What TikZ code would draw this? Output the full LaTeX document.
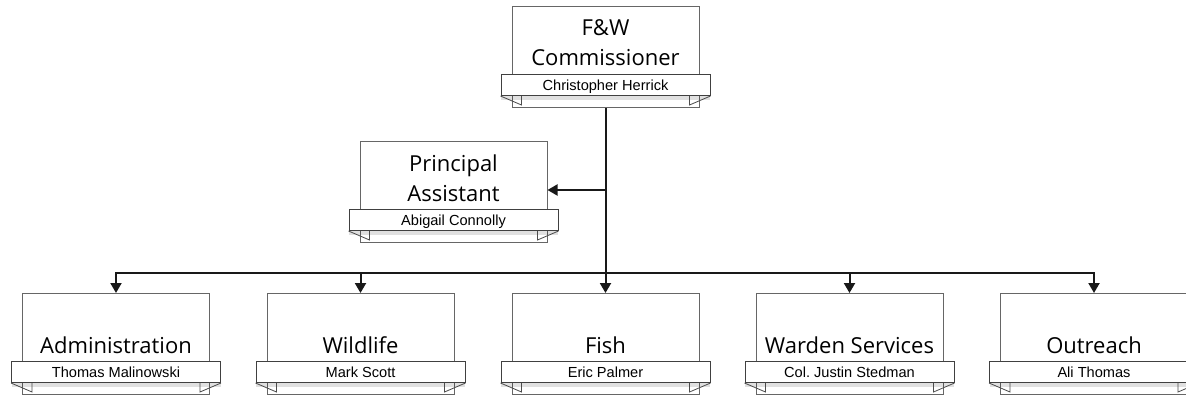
\documentclass[tikz,border=0pt]{standalone}
\usepackage{fontspec}
\newfontfamily\titlefont{Open Sans}
\newfontfamily\namefont{Liberation Sans}
\usetikzlibrary{arrows.meta,shadows}
\frenchspacing
\tikzset{
  unitbox/.style={draw=black!60, line width=1pt, fill=white, minimum width=187pt, minimum height=101pt, inner sep=0pt},
  titletext/.style={inner sep=0pt, font=\titlefont\fontsize{22}{30}\selectfont, text=black},
  banner/.style={draw=black!75, line width=1pt, fill=white, minimum width=209pt, minimum height=21pt, inner sep=0pt,
     text height=10.5pt, text depth=0pt, font=\namefont\fontsize{14.6}{16}\selectfont, text=black,
     drop shadow={shadow xshift=0pt, shadow yshift=-4pt, opacity=0.12, fill=black}},
  tabline/.style={draw=black!70, line width=0.8pt, line join=miter},
  conn/.style={draw=black!90, line width=2pt, line join=miter},
  arrowconn/.style={conn, -{Triangle[length=10pt,width=11pt]}}
}
\newcommand\orgunit[5]{%
  \node[unitbox, anchor=north] (#1) at (#2,#3) {};
  \node[titletext, anchor=base] (#1-t) at (#2,#3+60) {\begin{tabular}[b]{@{}c@{}}#4\end{tabular}};
  \node[banner, anchor=north] (#1-b) at (#2,#3+68) {#5};
  \draw[tabline] (#1-b.south west) -- ++(21,9) -- ++(0,-9);
  \draw[tabline] (#1-b.south east) -- ++(-21,9) -- ++(0,-9);
}
\begin{document}
\begin{tikzpicture}[x=1pt,y=-1pt]
\useasboundingbox (0,0) rectangle (1186,396);
\clip (0,0) rectangle (1186,396);
\orgunit{comm}{605.5}{6}{F\&W\\Commissioner}{Christopher Herrick}
\orgunit{pa}{453.5}{141}{Principal\\Assistant}{Abigail Connolly}
\orgunit{adm}{116}{293}{Administration}{Thomas Malinowski}
\orgunit{wild}{360.5}{293}{Wildlife}{Mark Scott}
\orgunit{fish}{605.5}{293}{Fish}{Eric Palmer}
\orgunit{ward}{849.5}{293}{Warden Services}{Col. Justin Stedman}
\orgunit{out}{1094}{293}{Outreach}{Ali Thomas}
\coordinate (bus) at (605.5,273);
\coordinate (jpa) at (605.5,190);
\draw[conn] (comm.south) -- (bus);
\draw[arrowconn] (jpa) -- (pa.east |- jpa);
\draw[arrowconn] (bus) -| (adm.north);
\draw[arrowconn] (bus) -| (wild.north);
\draw[arrowconn] (bus) -- (fish.north);
\draw[arrowconn] (bus) -| (ward.north);
\draw[arrowconn] (bus) -| (out.north);
\end{tikzpicture}
\end{document}
